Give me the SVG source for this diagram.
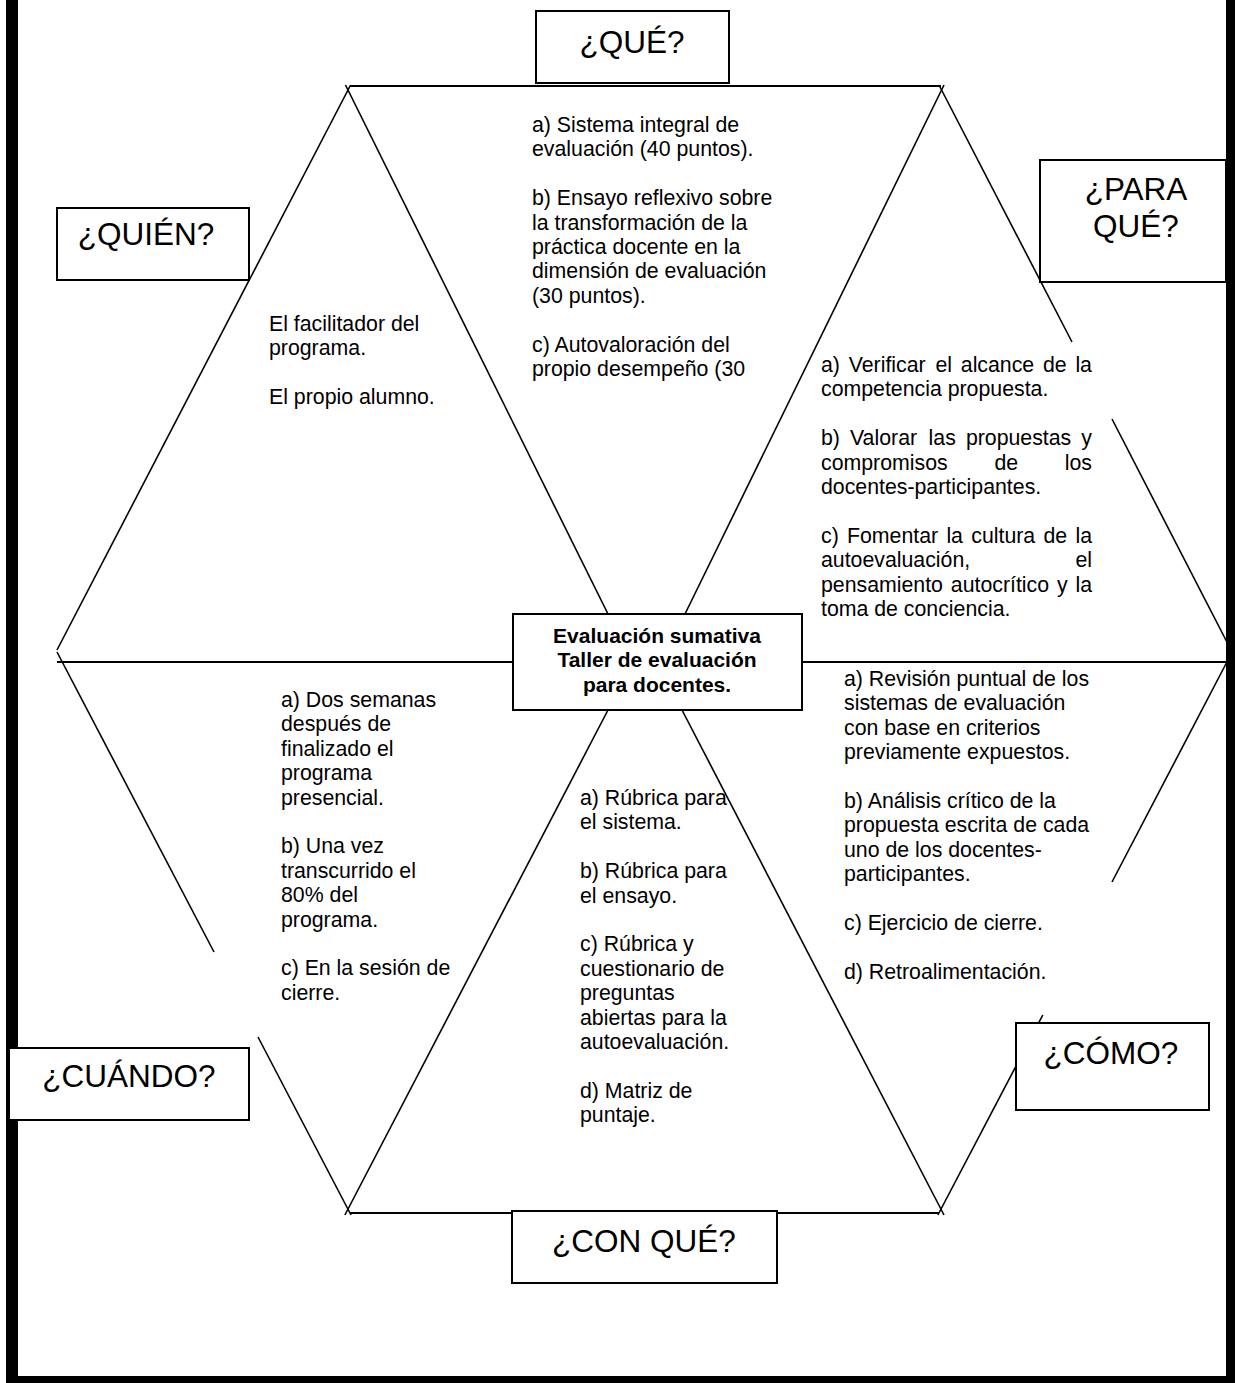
<svg xmlns="http://www.w3.org/2000/svg" width="1235" height="1383" viewBox="0 0 1235 1383">
<style>
  .frame { fill: #000; }
  .ln { stroke: #000; stroke-width: 1.6; fill: none; stroke-linecap: butt; }
  .hl { stroke: #000; stroke-width: 2.2; fill: none; }
  .box { fill: #fff; stroke: #000; stroke-width: 2; }
  .head { font-family: "Liberation Sans", Arial, sans-serif; font-size: 31.5px; fill: #000; text-anchor: middle; }
  .body { font-family: "Liberation Sans", Arial, sans-serif; font-size: 21.3px; fill: #000; }
  .center { font-family: "Liberation Sans", Arial, sans-serif; font-size: 21px; font-weight: bold; fill: #000; text-anchor: middle; }
</style>
<rect width="1235" height="1383" fill="#fff"/>
<g id="frame">
  <rect class="frame" x="6" y="0" width="12" height="1383"/>
  <rect class="frame" x="1226" y="0" width="9" height="1383"/>
  <rect class="frame" x="6" y="1376" width="1229" height="7"/>
</g>
<g id="connectors">
  <path class="hl" d="M350 86 H941"/>
  <path class="hl" d="M57 662 H513"/>
  <path class="hl" d="M802 662 H1230"/>
  <path class="hl" d="M350 1213 H512"/>
  <path class="hl" d="M777 1213 H939"/>
  <path class="ln" d="M350.6 85 L57 650"/>
  <path class="ln" d="M345.5 85 L608 614"/>
  <path class="ln" d="M939 85 L1072 342"/>
  <path class="ln" d="M1112 419 L1230 648"/>
  <path class="ln" d="M944 85 L685 614"/>
  <path class="ln" d="M57 652 L214 952"/>
  <path class="ln" d="M258 1037 L351 1215"/>
  <path class="ln" d="M608 710 L344.9 1215"/>
  <path class="ln" d="M682 710 L944 1215"/>
  <path class="ln" d="M1229 658 L1112 882"/>
  <path class="ln" d="M1042.8 1015 L937.9 1215"/>
</g>
<g id="node-que">
  <rect class="box" x="536" y="11" width="193" height="72"/>
  <text class="head" x="632" y="53">¿QUÉ?</text>
</g>
<g id="node-quien">
  <rect class="box" x="57" y="208" width="192" height="72"/>
  <text class="head" x="146" y="245">¿QUIÉN?</text>
</g>
<g id="node-paraque">
  <rect class="box" x="1040" y="160" width="186" height="122"/>
  <text class="head" x="1136" y="200">¿PARA</text>
  <text class="head" x="1136" y="237">QUÉ?</text>
</g>
<g id="node-cuando">
  <rect class="box" x="9" y="1048" width="240" height="72"/>
  <text class="head" x="129" y="1087">¿CUÁNDO?</text>
</g>
<g id="node-conque">
  <rect class="box" x="512" y="1211" width="265" height="72"/>
  <text class="head" x="644" y="1252">¿CON QUÉ?</text>
</g>
<g id="node-como">
  <rect class="box" x="1016" y="1023" width="193" height="87"/>
  <text class="head" x="1111" y="1064">¿CÓMO?</text>
</g>
<g id="node-center">
  <rect class="box" x="513" y="614" width="289" height="96"/>
  <text class="center" x="657" y="643">Evaluación sumativa</text>
  <text class="center" x="657" y="667.4">Taller de evaluación</text>
  <text class="center" x="657" y="691.8">para docentes.</text>
</g>
<g id="text-quien">
  <text class="body" x="269" y="331">El facilitador del</text>
  <text class="body" x="269" y="355.4">programa.</text>
  <text class="body" x="269" y="404.2">El propio alumno.</text>
</g>
<g id="text-que">
  <text class="body" x="532" y="132">a) Sistema integral de</text>
  <text class="body" x="532" y="156.4">evaluación (40 puntos).</text>
  <text class="body" x="532" y="205.2">b) Ensayo reflexivo sobre</text>
  <text class="body" x="532" y="229.6">la transformación de la</text>
  <text class="body" x="532" y="254">práctica docente en la</text>
  <text class="body" x="532" y="278.4">dimensión de evaluación</text>
  <text class="body" x="532" y="302.8">(30 puntos).</text>
  <text class="body" x="532" y="351.6">c) Autovaloración del</text>
  <text class="body" x="532" y="376">propio desempeño (30</text>
</g>
<g id="text-paraque">
  <text class="body" y="372"><tspan x="821">a)</tspan><tspan x="848.7">Verificar</tspan><tspan x="935.5">el</tspan><tspan x="960.8">alcance</tspan><tspan x="1043">de</tspan><tspan x="1075.4">la</tspan></text>
  <text class="body" x="821" y="396.4">competencia propuesta.</text>
  <text class="body" y="445.2"><tspan x="821">b)</tspan><tspan x="850">Valorar</tspan><tspan x="928.6">las</tspan><tspan x="965.9">propuestas</tspan><tspan x="1081.3">y</tspan></text>
  <text class="body" y="469.6"><tspan x="821">compromisos</tspan><tspan x="994.4">de</tspan><tspan x="1064.8">los</tspan></text>
  <text class="body" x="821" y="494">docentes-participantes.</text>
  <text class="body" y="542.8"><tspan x="821">c)</tspan><tspan x="847">Fomentar</tspan><tspan x="946.4">la</tspan><tspan x="971.3">cultura</tspan><tspan x="1043.5">de</tspan><tspan x="1075.5">la</tspan></text>
  <text class="body" y="567.2"><tspan x="821">autoevaluación,</tspan><tspan x="1075.4">el</tspan></text>
  <text class="body" y="591.6"><tspan x="821">pensamiento</tspan><tspan x="950.8">autocrítico</tspan><tspan x="1057">y</tspan><tspan x="1075.5">la</tspan></text>
  <text class="body" x="821" y="616">toma de conciencia.</text>
</g>
<g id="text-como">
  <text class="body" x="844" y="686">a) Revisión puntual de los</text>
  <text class="body" x="844" y="710.4">sistemas de evaluación</text>
  <text class="body" x="844" y="734.8">con base en criterios</text>
  <text class="body" x="844" y="759.2">previamente expuestos.</text>
  <text class="body" x="844" y="808">b) Análisis crítico de la</text>
  <text class="body" x="844" y="832.4">propuesta escrita de cada</text>
  <text class="body" x="844" y="856.8">uno de los docentes-</text>
  <text class="body" x="844" y="881.2">participantes.</text>
  <text class="body" x="844" y="930">c) Ejercicio de cierre.</text>
  <text class="body" x="844" y="978.8">d) Retroalimentación.</text>
</g>
<g id="text-cuando">
  <text class="body" x="281" y="707">a) Dos semanas</text>
  <text class="body" x="281" y="731.4">después de</text>
  <text class="body" x="281" y="755.8">finalizado el</text>
  <text class="body" x="281" y="780.2">programa</text>
  <text class="body" x="281" y="804.6">presencial.</text>
  <text class="body" x="281" y="853.4">b) Una vez</text>
  <text class="body" x="281" y="877.8">transcurrido el</text>
  <text class="body" x="281" y="902.2">80% del</text>
  <text class="body" x="281" y="926.6">programa.</text>
  <text class="body" x="281" y="975.4">c) En la sesión de</text>
  <text class="body" x="281" y="999.8">cierre.</text>
</g>
<g id="text-conque">
  <text class="body" x="580" y="805">a) Rúbrica para</text>
  <text class="body" x="580" y="829.4">el sistema.</text>
  <text class="body" x="580" y="878.2">b) Rúbrica para</text>
  <text class="body" x="580" y="902.6">el ensayo.</text>
  <text class="body" x="580" y="951.4">c) Rúbrica y</text>
  <text class="body" x="580" y="975.8">cuestionario de</text>
  <text class="body" x="580" y="1000.2">preguntas</text>
  <text class="body" x="580" y="1024.6">abiertas para la</text>
  <text class="body" x="580" y="1049">autoevaluación.</text>
  <text class="body" x="580" y="1097.8">d) Matriz de</text>
  <text class="body" x="580" y="1122.2">puntaje.</text>
</g>
</svg>
